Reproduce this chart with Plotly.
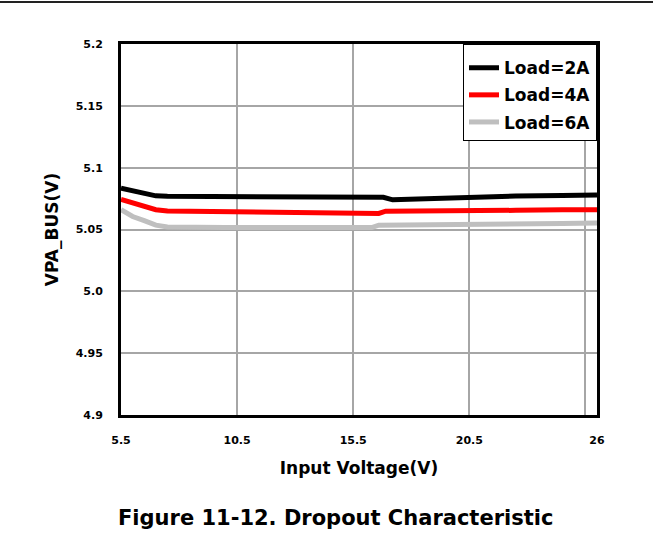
import plotly.graph_objects as go

# ---- data ----
x_2a = [5.5, 6.0, 6.5, 7.0, 7.5, 10.0, 13.0, 15.5, 16.8, 17.2, 18.5, 20.5, 22.5, 24.5, 26.0]
y_2a = [5.0835, 5.0815, 5.0795, 5.0772, 5.0768, 5.0765, 5.0763, 5.0760, 5.0760, 5.0740,
        5.0748, 5.0762, 5.0770, 5.0774, 5.0778]

x_4a = [5.5, 6.0, 6.5, 7.0, 7.5, 10.0, 13.0, 15.5, 16.6, 16.9, 18.5, 20.5, 22.5, 24.5, 26.0]
y_4a = [5.0743, 5.0715, 5.0685, 5.0660, 5.0650, 5.0643, 5.0640, 5.0635, 5.0630, 5.0648,
        5.0648, 5.0650, 5.0655, 5.0660, 5.0660]

x_6a = [5.5, 6.0, 6.5, 7.0, 7.5, 8.5, 10.0, 13.0, 16.3, 16.6, 18.5, 20.5, 22.5, 24.5, 26.0]
y_6a = [5.0660, 5.0605, 5.0572, 5.0535, 5.0520, 5.0517, 5.0516, 5.0516, 5.0516, 5.0535,
        5.0536, 5.0538, 5.0542, 5.0548, 5.0552]

series_names = ["Load=2A", "Load=4A", "Load=6A"]
series_colors = ["#000000", "#ff0000", "#bfbfbf"]

x_tickvals = [5.5, 10.5, 15.5, 20.5, 25.5, 26]
x_ticktext = ["5.5", "10.5", "15.5", "20.5", "", "26"]
y_tickvals = [4.9, 4.95, 5.0, 5.05, 5.1, 5.15, 5.2]
y_ticktext = ["4.9", "4.95", "5.0", "5.05", "5.1", "5.15", "5.2"]

FONT = "DejaVu Sans"

fig = go.Figure()
for i, (xs, ys) in enumerate([(x_2a, y_2a), (x_4a, y_4a), (x_6a, y_6a)]):
    fig.add_trace(go.Scatter(
        x=xs, y=ys, mode="lines", name=series_names[i],
        legendgroup=str(i),
        line=dict(color=series_colors[i], width=5),
    ))

W, H = 653, 539
ml, mr, mt, mb = 121, 56, 44, 124
pw, ph = W - ml - mr, H - mt - mb

fig.update_layout(
    width=W, height=H,
    margin=dict(l=ml, r=mr, t=mt, b=mb, pad=0),
    paper_bgcolor="white", plot_bgcolor="white",
    font=dict(family=FONT, color="black"),
    showlegend=True,
    legend=dict(
        x=1, y=1, xanchor="right", yanchor="top",
        bgcolor="white", bordercolor="black", borderwidth=1,
        font=dict(family=FONT, size=17, color="black", weight="bold"),
        title=dict(text=" ", font=dict(size=4)),
        tracegroupgap=2, traceorder="grouped",
    ),
    xaxis=dict(
        range=[5.5, 26], tickmode="array", tickvals=x_tickvals, ticktext=x_ticktext,
        showgrid=True, gridcolor="#a6a6a6", gridwidth=2,
        showline=True, linecolor="black", linewidth=3, mirror=True,
        ticks="", ticklabelstandoff=13, zeroline=False,
        tickfont=dict(family=FONT, size=11, color="black", weight="bold"),
        title=dict(text="Input Voltage(V)", standoff=16,
                   font=dict(family=FONT, size=17, color="black", weight="bold")),
    ),
    yaxis=dict(
        range=[4.9, 5.2], tickmode="array", tickvals=y_tickvals, ticktext=y_ticktext,
        showgrid=True, gridcolor="#a6a6a6", gridwidth=2,
        showline=True, linecolor="black", linewidth=3, mirror=True,
        ticks="", ticklabelstandoff=13, zeroline=False,
        tickfont=dict(family=FONT, size=11, color="black", weight="bold"),
        title=dict(text="VPA_BUS(V)", standoff=13,
                   font=dict(family=FONT, size=17, color="black", weight="bold")),
    ),
)

# caption
fig.add_annotation(
    text="Figure 11-12. Dropout Characteristic",
    xref="paper", yref="paper",
    x=(335 - ml) / pw, y=-(518 - (mt + ph)) / ph,
    xanchor="center", yanchor="middle", showarrow=False,
    font=dict(family="DejaVu Sans", size=21, color="black", weight="bold"),
)

# top page rule
fig.add_shape(
    type="line", xref="paper", yref="paper",
    x0=-ml / pw, x1=(W - ml) / pw,
    y0=1 + (mt - 2) / ph, y1=1 + (mt - 2) / ph,
    line=dict(color="#222222", width=2),
)

fig.write_html("out.html", config={"displayModeBar": False},
               post_script="document.body.style.margin='0';")
